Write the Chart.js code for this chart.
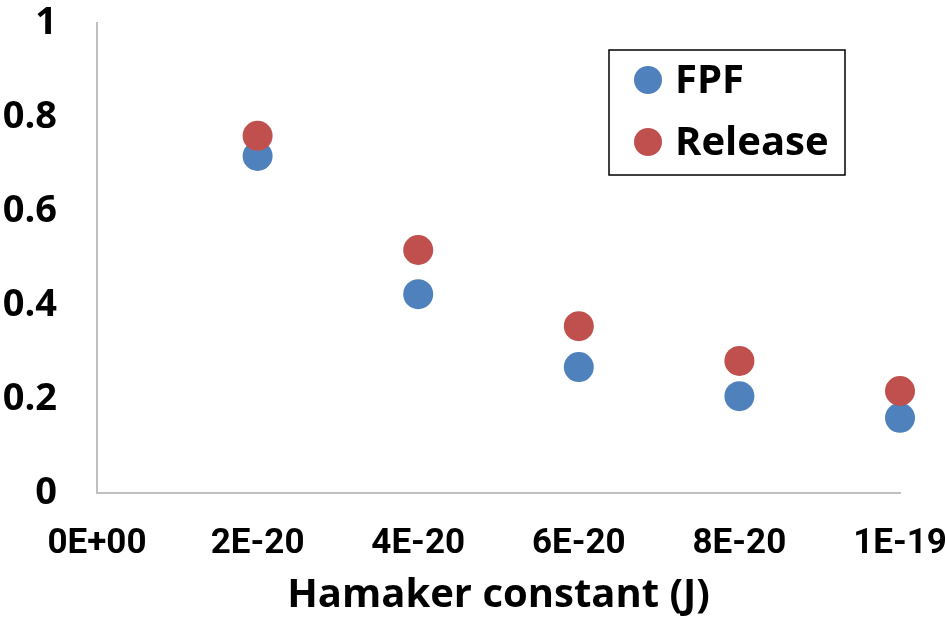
<!DOCTYPE html>
<html>
<head>
<meta charset="utf-8">
<script src="https://cdn.jsdelivr.net/npm/chart.js@4"></script>
<style>
  html, body { margin: 0; padding: 0; background: #fff; }
  #wrap { width: 945px; height: 634px; }
</style>
</head>
<body>
<div id="wrap"><canvas id="myChart" width="945" height="634"></canvas></div>
<script>
const hamaker = [2e-20, 4e-20, 6e-20, 8e-20, 1e-19];
const fpf = [0.717, 0.423, 0.268, 0.206, 0.160];
const release = [0.760, 0.517, 0.355, 0.281, 0.217];
const xTickLabels = ["0E+00", "2E-20", "4E-20", "6E-20", "8E-20", "1E-19"];
const yTickLabels = ["0", "0.2", "0.4", "0.6", "0.8", "1"];

const blue = "#4F81BD";
const red = "#C0504D";
const axisGray = "#BFBFBF";

function toPoints(xs, ys) {
  return xs.map((x, i) => ({ x: x, y: ys[i] }));
}

// legend box drawn inside the plot, top right, with a black border
const boxLegend = {
  id: "boxLegend",
  afterDraw(chart) {
    const { ctx, chartArea } = chart;
    const w = 236, h = 125;
    const left = chartArea.right - 55 - w;
    const top = chartArea.top + 27;
    ctx.save();
    ctx.strokeStyle = "#000";
    ctx.lineWidth = 1.5;
    ctx.strokeRect(left, top, w, h);
    ctx.font = "bold 40px 'Open Sans'";
    ctx.textBaseline = "middle";
    ctx.textAlign = "left";
    chart.data.datasets.forEach((ds, i) => {
      const cy = top + 30 + i * 62;
      ctx.fillStyle = ds.backgroundColor;
      ctx.beginPath();
      ctx.arc(left + 39, cy, 14, 0, Math.PI * 2);
      ctx.fill();
      ctx.fillStyle = "#000";
      ctx.fillText(ds.label, left + 66, cy + 2);
    });
    ctx.restore();
  },
};

const data = {
  datasets: [
    {
      label: "FPF",
      data: toPoints(hamaker, fpf),
      backgroundColor: blue,
      borderWidth: 0,
      pointRadius: 15,
      pointHoverRadius: 15,
      clip: false,
      order: 1,
    },
    {
      label: "Release",
      data: toPoints(hamaker, release),
      backgroundColor: red,
      borderWidth: 0,
      pointRadius: 15,
      pointHoverRadius: 15,
      clip: false,
      order: 0,
    },
  ],
};

const config = {
  type: "scatter",
  data: data,
  plugins: [boxLegend],
  options: {
    responsive: false,
    animation: false,
    layout: {
      padding: { left: 0, right: 45, top: 23, bottom: 0 },
    },
    plugins: {
      legend: { display: false },
      tooltip: { enabled: false },
    },
    scales: {
      x: {
        type: "linear",
        min: 0,
        max: 1e-19,
        grid: { display: false, drawTicks: false },
        border: { display: true, color: axisGray, width: 2 },
        afterFit(scale) {
          scale.height = 141;
          scale.paddingLeft = 0;
          scale.paddingRight = 0;
        },
        ticks: {
          stepSize: 2e-20,
          maxRotation: 0,
          autoSkip: false,
          padding: 30,
          color: "#000",
          font: { family: "Roboto", weight: "bold", size: 35 },
          callback: (value, index) => xTickLabels[index],
        },
        title: {
          display: true,
          text: "Hamaker constant (J)",
          color: "#000",
          font: { family: "'Open Sans'", weight: "bold", size: 40 },
          padding: { top: 0, bottom: 14 },
        },
      },
      y: {
        min: 0,
        max: 1,
        grid: { display: false, drawTicks: false },
        border: { display: true, color: axisGray, width: 2 },
        afterFit(scale) {
          scale.width = 97;
          scale.paddingTop = 0;
          scale.paddingBottom = 0;
        },
        ticks: {
          stepSize: 0.2,
          padding: 40,
          color: "#000",
          font: { family: "'Open Sans'", weight: "bold", size: 38 },
          callback: (value, index) => yTickLabels[index],
        },
      },
    },
  },
};

const myChart = new Chart(document.getElementById("myChart"), config);
</script>
</body>
</html>
